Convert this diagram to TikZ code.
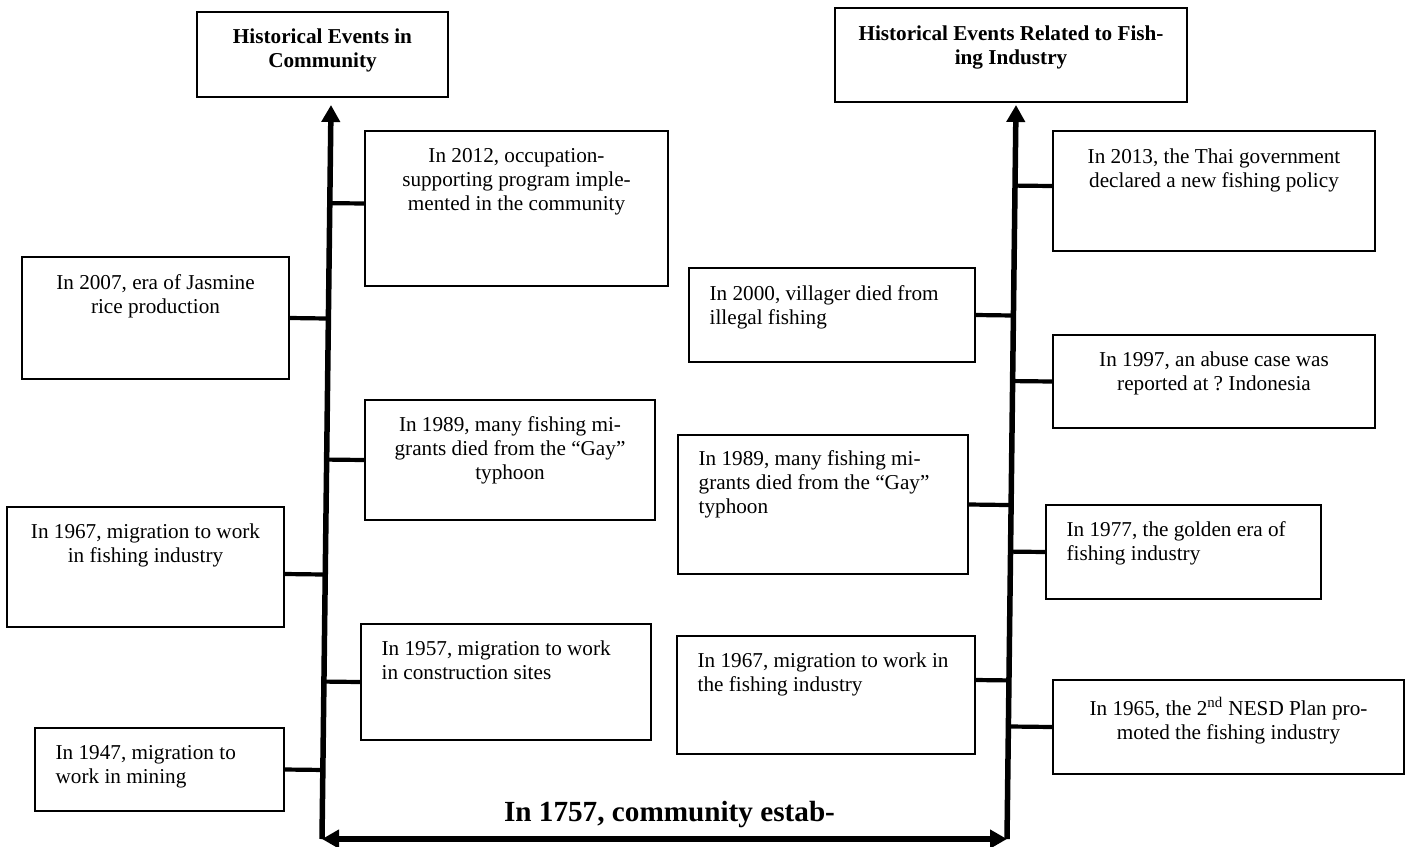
\documentclass[tikz,border=0pt]{standalone}
\usepackage{fontspec}
\setmainfont{Liberation Serif}
\usetikzlibrary{arrows.meta, positioning, fit, calc}

\newcommand{\evtfont}{\fontsize{10.6pt}{12pt}\selectfont}

\begin{document}
\begin{tikzpicture}[
    x=0.5pt, y=-0.5pt,
    >={Triangle[width=9pt,length=8.5pt]},
    evt/.style={draw, line width=0.75pt, inner sep=0pt},
    txt/.style={align=center, inner sep=0pt, font=\evtfont},
    ltxt/.style={align=left, inner sep=0pt, font=\evtfont},
    head/.style={align=center, inner sep=0pt, font=\evtfont\bfseries},
    axis/.style={line width=2.75pt},
    stub/.style={line width=2.1pt}
]
\useasboundingbox (0,0) rectangle (1411,846);

% time axes
\coordinate (lbot) at (322,839);
\coordinate (ltop) at (331,105);
\coordinate (rbot) at (1007,839);
\coordinate (rtop) at (1016,105);
\draw[axis, ->] (lbot) -- (ltop);
\draw[axis, ->] (rbot) -- (rtop);
\draw[axis, <->] (lbot) -- (rbot);

% headings
\node[evt, fit={(197,12) (448,97)}] (comhead) {};
\node[head, below=8.5pt of comhead.north] (comheadt) {Historical Events in\\Community};
\node[evt, fit={(835,8) (1187,102)}] (fishhead) {};
\node[head, below=9pt of fishhead.north] (fishheadt) {Historical Events Related to Fish-\\ing Industry};

% community events
\node[evt, fit={(365,131) (668,286)}] (com2012) {};
\node[txt, below=8.75pt of com2012.north] (com2012t) {In 2012, occupation-\\supporting program imple-\\mented in the community};
\node[evt, fit={(22,257) (289,379)}] (com2007) {};
\node[txt, below=8.75pt of com2007.north] (com2007t) {In 2007, era of Jasmine\\rice production};
\node[evt, fit={(365,400) (655,520)}] (com1989) {};
\node[txt, below=8.5pt of com1989.north] (com1989t) {In 1989, many fishing mi-\\grants died from the “Gay”\\typhoon};
\node[evt, fit={(7,507) (284,627)}] (com1967) {};
\node[txt, below=8.5pt of com1967.north] (com1967t) {In 1967, migration to work\\in fishing industry};
\node[evt, fit={(361,624) (651,740)}] (com1957) {};
\node[ltxt, below right=8.75pt and 10.5pt of com1957.north west] (com1957t) {In 1957, migration to work\\in construction sites};
\node[evt, fit={(35,728) (284,811)}] (com1947) {};
\node[ltxt, below right=9pt and 10.5pt of com1947.north west] (com1947t) {In 1947, migration to\\work in mining};

% fishing industry events
\node[evt, fit={(1053,131) (1375,251)}] (fish2013) {};
\node[txt, below=9pt of fish2013.north] (fish2013t) {In 2013, the Thai government\\declared a new fishing policy};
\node[evt, fit={(689,268) (975,362)}] (fish2000) {};
\node[ltxt, below right=8.75pt and 10.5pt of fish2000.north west] (fish2000t) {In 2000, villager died from\\illegal fishing};
\node[evt, fit={(1053,335) (1375,428)}] (fish1997) {};
\node[txt, below=8.75pt of fish1997.north] (fish1997t) {In 1997, an abuse case was\\reported at ?\ Indonesia};
\node[evt, fit={(678,435) (968,574)}] (fish1989) {};
\node[ltxt, below right=8pt and 10.5pt of fish1989.north west] (fish1989t) {In 1989, many fishing mi-\\grants died from the “Gay”\\typhoon};
\node[evt, fit={(1046,505) (1321,599)}] (fish1977) {};
\node[ltxt, below right=8.5pt and 10.5pt of fish1977.north west] (fish1977t) {In 1977, the golden era of\\fishing industry};
\node[evt, fit={(677,636) (975,754)}] (fish1967) {};
\node[ltxt, below right=8.75pt and 10.5pt of fish1967.north west] (fish1967t) {In 1967, migration to work in\\the fishing industry};
\node[evt, fit={(1053,680) (1404,774)}] (fish1965) {};
\node[txt, below=9pt of fish1965.north] (fish1965t) {In 1965, the 2\textsuperscript{nd} NESD Plan pro-\\moted the fishing industry};

% links to the axes
\draw[stub] ([yshift=2.5pt]com2012.west) -- ($(lbot)!([yshift=2.5pt]com2012.west)!(ltop)$);
\draw[stub] (com2007.east) -- ($(lbot)!(com2007.east)!(ltop)$);
\draw[stub] (com1989.west) -- ($(lbot)!(com1989.west)!(ltop)$);
\draw[stub] ([yshift=-3.5pt]com1967.east) -- ($(lbot)!([yshift=-3.5pt]com1967.east)!(ltop)$);
\draw[stub] (com1957.west) -- ($(lbot)!(com1957.west)!(ltop)$);
\draw[stub] (com1947.east) -- ($(lbot)!(com1947.east)!(ltop)$);
\draw[stub] ([yshift=2.5pt]fish2013.west) -- ($(rbot)!([yshift=2.5pt]fish2013.west)!(rtop)$);
\draw[stub] (fish2000.east) -- ($(rbot)!(fish2000.east)!(rtop)$);
\draw[stub] (fish1997.west) -- ($(rbot)!(fish1997.west)!(rtop)$);
\draw[stub] (fish1989.east) -- ($(rbot)!(fish1989.east)!(rtop)$);
\draw[stub] (fish1977.west) -- ($(rbot)!(fish1977.west)!(rtop)$);
\draw[stub] ([yshift=7.5pt]fish1967.east) -- ($(rbot)!([yshift=7.5pt]fish1967.east)!(rtop)$);
\draw[stub] (fish1965.west) -- ($(rbot)!(fish1965.west)!(rtop)$);

% founding
\node[anchor=base, inner sep=0pt, font=\fontsize{14.6pt}{16pt}\selectfont\bfseries] (founded) at (669.5,821) {In 1757, community estab-};
\end{tikzpicture}
\end{document}
